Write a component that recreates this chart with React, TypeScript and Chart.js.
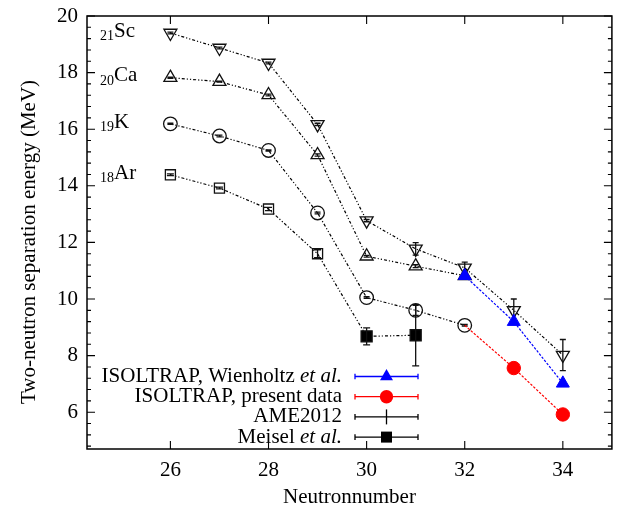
import { useEffect, useRef } from 'react';
import { Chart, registerables } from 'chart.js';

Chart.register(...registerables);

// ---- data ----
const scNeutrons = [26, 27, 28, 29, 30, 31, 32, 33, 34];
const scValues = [19.4, 18.87, 18.34, 16.17, 12.77, 11.77, 11.1, 9.6, 8.02];
const scErrors = [0.03, 0.03, 0.03, 0.04, 0.04, 0.22, 0.2, 0.4, 0.55];

const caNeutrons = [26, 27, 28, 29, 30, 31, 32];
const caValues = [17.82, 17.68, 17.21, 15.09, 11.51, 11.16, 10.82];
const caErrors = [0.02, 0.02, 0.03, 0.04, 0.03, 0.05, 0.05];

const kNeutrons = [26, 27, 28, 29, 30, 31, 32];
const kValues = [16.19, 15.76, 15.25, 13.04, 10.05, 9.6, 9.07];
const kErrors = [0.02, 0.03, 0.02, 0.03, 0.03, 0.18, 0.03];

const arNeutrons = [26, 27, 28, 29];
const arValues = [14.39, 13.92, 13.18, 11.6];
const arErrors = [0.03, 0.03, 0.06, 0.14];

const meiselNeutrons = [30, 31];
const meiselValues = [8.68, 8.72];
const meiselErrors = [0.3, 1.08];

const wienholtzNeutrons = [32, 33, 34];
const wienholtzValues = [10.82, 9.2, 7.02];

const presentNeutrons = [32, 33, 34];
const presentValues = [9.07, 7.56, 5.92];

const xTickValues = [26, 28, 30, 32, 34];
const yTickValues = [6, 8, 10, 12, 14, 16, 18, 20];

const elementSymbols = ['Sc', 'Ca', 'K', 'Ar'];
const protonNumbers = ['21', '20', '19', '18'];

const legendLabels = [
  ['ISOLTRAP, Wienholtz ', 'et al.'],
  ['ISOLTRAP, present data', ''],
  ['AME2012', ''],
  ['Meisel ', 'et al.'],
];

const xTitle = 'Neutronnumber';
const yTitle = 'Two-neutron separation energy (MeV)';

// ---- helpers ----
const SERIF = '"Liberation Serif", "Times New Roman", serif';
const FS = 21;
const DASHDOT = [3, 2, 1.2, 2, 1.2, 2];
const DASHED = [2.5, 1.5];

const pts = (xs: number[], ys: number[]) => xs.map((x, i) => ({ x, y: ys[i] }));

const errorBarPlugin = {
  id: 'errorBars',
  afterDatasetDraw(chart: any, args: any) {
    const ds = chart.data.datasets[args.index];
    if (!ds.errors) return;
    const ctx = chart.ctx;
    const ys = chart.scales.y;
    ctx.save();
    ctx.strokeStyle = '#111';
    ctx.lineWidth = 1.3;
    ctx.setLineDash([]);
    args.meta.data.forEach((pt: any, i: number) => {
      const e = ds.errors[i];
      if (!e) return;
      const v = ds.data[i].y;
      const top = ys.getPixelForValue(v + e);
      const bot = ys.getPixelForValue(v - e);
      const cap = ds.capHalf ?? 3;
      ctx.beginPath();
      ctx.moveTo(pt.x, top);
      ctx.lineTo(pt.x, bot);
      ctx.moveTo(pt.x - cap, top);
      ctx.lineTo(pt.x + cap, top);
      ctx.moveTo(pt.x - cap, bot);
      ctx.lineTo(pt.x + cap, bot);
      ctx.stroke();
    });
    ctx.restore();
  },
};

const framePlugin = {
  id: 'frame',
  afterDatasetsDraw(chart: any) {
    const { ctx, chartArea: a, scales } = chart;
    ctx.save();
    ctx.strokeStyle = '#000';
    ctx.lineWidth = 1.5;
    ctx.setLineDash([]);
    ctx.strokeRect(a.left, a.top, a.right - a.left, a.bottom - a.top);
    ctx.lineWidth = 1.1;
    ctx.beginPath();
    xTickValues.forEach((v) => {
      const x = scales.x.getPixelForValue(v);
      ctx.moveTo(x, a.bottom);
      ctx.lineTo(x, a.bottom - 8);
      ctx.moveTo(x, a.top);
      ctx.lineTo(x, a.top + 8);
    });
    const ymin = scales.y.min;
    const ymax = scales.y.max;
    for (let k = Math.ceil(ymin / 0.4); k * 0.4 <= ymax + 1e-9; k++) {
      const v = k * 0.4;
      const major = Math.abs(v / 2 - Math.round(v / 2)) < 1e-6;
      const len = major ? 8 : 4;
      const y = scales.y.getPixelForValue(v);
      ctx.moveTo(a.left, y);
      ctx.lineTo(a.left + len, y);
      ctx.moveTo(a.right, y);
      ctx.lineTo(a.right - len, y);
    }
    ctx.stroke();
    ctx.restore();
  },
};

const drawMarker = (ctx: any, kind: string, x: number, y: number, color: string) => {
  ctx.fillStyle = color;
  ctx.strokeStyle = color;
  ctx.beginPath();
  if (kind === 'triangle') {
    const r = 7.5;
    ctx.moveTo(x, y - r);
    ctx.lineTo(x + r * 0.866, y + r * 0.5);
    ctx.lineTo(x - r * 0.866, y + r * 0.5);
    ctx.closePath();
    ctx.fill();
  } else if (kind === 'circle') {
    ctx.arc(x, y, 6.7, 0, Math.PI * 2);
    ctx.fill();
  } else if (kind === 'rect') {
    ctx.fillRect(x - 5.5, y - 5.5, 11, 11);
  } else if (kind === 'cross') {
    ctx.lineWidth = 1.3;
    ctx.moveTo(x, y - 7.5);
    ctx.lineTo(x, y + 7.5);
    ctx.stroke();
  }
};

const annotationPlugin = {
  id: 'annotations',
  afterDraw(chart: any) {
    const { ctx, chartArea: a } = chart;
    ctx.save();
    ctx.fillStyle = '#000';
    ctx.setLineDash([]);

    // element labels next to first point of each series
    const firstPointDatasets = [2, 3, 4, 5];
    elementSymbols.forEach((sym, i) => {
      const meta = chart.getDatasetMeta(firstPointDatasets[i]);
      const p = meta.data[0];
      const baseline = p.y + 3.8;
      let x = a.left + 13;
      ctx.font = `14px ${SERIF}`;
      ctx.textAlign = 'left';
      ctx.textBaseline = 'alphabetic';
      ctx.fillText(protonNumbers[i], x, baseline + 3.5);
      x += ctx.measureText(protonNumbers[i]).width;
      ctx.font = `${FS}px ${SERIF}`;
      ctx.fillText(sym, x, baseline);
    });

    // legend
    const colors = ['#0000ff', '#ff0000', '#000000', '#000000'];
    const markers = ['triangle', 'circle', 'cross', 'rect'];
    const textRight = a.left + 255;
    const sx0 = a.left + 268;
    const sx1 = a.left + 331;
    legendLabels.forEach((parts, i) => {
      const y = a.bottom - 72.5 + i * 20.2;
      ctx.textBaseline = 'middle';
      ctx.textAlign = 'right';
      ctx.fillStyle = '#000';
      let xr = textRight;
      if (parts[1]) {
        ctx.font = `italic ${FS}px ${SERIF}`;
        ctx.fillText(parts[1], xr, y);
        xr -= ctx.measureText(parts[1]).width;
      }
      ctx.font = `${FS}px ${SERIF}`;
      ctx.fillText(parts[0], xr, y);
      // sample
      const c = colors[i];
      ctx.strokeStyle = c;
      ctx.lineWidth = 1.3;
      ctx.beginPath();
      ctx.moveTo(sx0, y);
      ctx.lineTo(sx1, y);
      ctx.moveTo(sx0, y - 2.8);
      ctx.lineTo(sx0, y + 2.8);
      ctx.moveTo(sx1, y - 2.8);
      ctx.lineTo(sx1, y + 2.8);
      ctx.stroke();
      drawMarker(ctx, markers[i], (sx0 + sx1) / 2, y, c);
    });

    // axis titles
    ctx.fillStyle = '#000';
    ctx.font = `${FS}px ${SERIF}`;
    ctx.textAlign = 'center';
    ctx.textBaseline = 'alphabetic';
    ctx.fillText(xTitle, (a.left + a.right) / 2, 503);
    ctx.save();
    ctx.translate(35, 242);
    ctx.rotate(-Math.PI / 2);
    ctx.fillText(yTitle, 0, 0);
    ctx.restore();

    ctx.restore();
  },
};

export default function App() {
  const ref = useRef<HTMLCanvasElement | null>(null);

  useEffect(() => {
    if (!ref.current) return;
    document.body.style.margin = '0';

    const openStyle = {
      borderColor: '#000',
      borderWidth: 1.2,
      borderDash: DASHDOT,
      pointBackgroundColor: 'rgba(0,0,0,0)',
      pointBorderColor: '#111',
      pointBorderWidth: 1.3,
      fill: false,
      tension: 0,
    };

    const chart = new Chart(ref.current, {
      type: 'line',
      data: {
        datasets: [
          {
            label: 'ISOLTRAP, Wienholtz et al.',
            data: pts(wienholtzNeutrons, wienholtzValues),
            borderColor: '#0000ff',
            borderWidth: 1.2,
            borderDash: DASHED,
            pointStyle: 'triangle',
            pointRadius: 7.5,
            pointBackgroundColor: '#0000ff',
            pointBorderColor: '#0000ff',
            pointBorderWidth: 1,
            fill: false,
          } as any,
          {
            label: 'ISOLTRAP, present data',
            data: pts(presentNeutrons, presentValues),
            borderColor: '#ff0000',
            borderWidth: 1.2,
            borderDash: DASHED,
            pointStyle: 'circle',
            pointRadius: [0, 6.7, 6.7],
            pointBackgroundColor: '#ff0000',
            pointBorderColor: '#ff0000',
            pointBorderWidth: 1,
            fill: false,
          } as any,
          {
            label: 'Sc',
            data: pts(scNeutrons, scValues),
            errors: scErrors,
            ...openStyle,
            pointStyle: 'triangle',
            rotation: 180,
            pointRadius: 7.5,
          } as any,
          {
            label: 'Ca',
            data: pts(caNeutrons, caValues),
            errors: caErrors,
            ...openStyle,
            pointStyle: 'triangle',
            pointRadius: 7.5,
          } as any,
          {
            label: 'K',
            data: pts(kNeutrons, kValues),
            errors: kErrors,
            ...openStyle,
            pointStyle: 'circle',
            pointRadius: 6.8,
          } as any,
          {
            label: 'Ar',
            data: pts([...arNeutrons, ...meiselNeutrons], [...arValues, ...meiselValues]),
            errors: [...arErrors, ...meiselErrors],
            ...openStyle,
            pointStyle: 'rect',
            pointRadius: [...arNeutrons.map(() => 7.1), ...meiselNeutrons.map(() => 7.8)],
            pointBackgroundColor: [...arNeutrons.map(() => 'rgba(0,0,0,0)'), ...meiselNeutrons.map(() => '#000')],
            capHalf: 3.5,
          } as any,
        ],
      },
      options: {
        animation: false,
        responsive: true,
        maintainAspectRatio: false,
        layout: { padding: { left: 0, right: 8, top: 16, bottom: 0 } },
        plugins: {
          legend: { display: false },
          tooltip: { enabled: false },
        },
        scales: {
          x: {
            type: 'linear',
            min: 24.3,
            max: 35,
            grid: { display: false, drawTicks: true, tickLength: 9 },
            border: { display: false },
            afterBuildTicks: (s: any) => {
              s.ticks = xTickValues.map((value) => ({ value }));
            },
            afterFit: (s: any) => {
              s.height = 61;
            },
            ticks: {
              padding: 0,
              color: '#000',
              font: { family: SERIF, size: FS },
              maxRotation: 0,
            },
          },
          y: {
            type: 'linear',
            min: 4.7,
            max: 20,
            grid: { display: false, drawTicks: true, tickLength: 9 },
            border: { display: false },
            afterBuildTicks: (s: any) => {
              s.ticks = yTickValues.map((value) => ({ value }));
            },
            afterFit: (s: any) => {
              s.width = 87;
            },
            ticks: {
              padding: 0,
              color: '#000',
              font: { family: SERIF, size: FS },
            },
          },
        },
      } as any,
      plugins: [framePlugin, errorBarPlugin, annotationPlugin],
    });

    return () => chart.destroy();
  }, []);

  return (
    <div style={{ position: 'absolute', left: 0, top: 0, width: 621, height: 510, background: '#fff' }}>
      <canvas ref={ref} />
    </div>
  );
}
